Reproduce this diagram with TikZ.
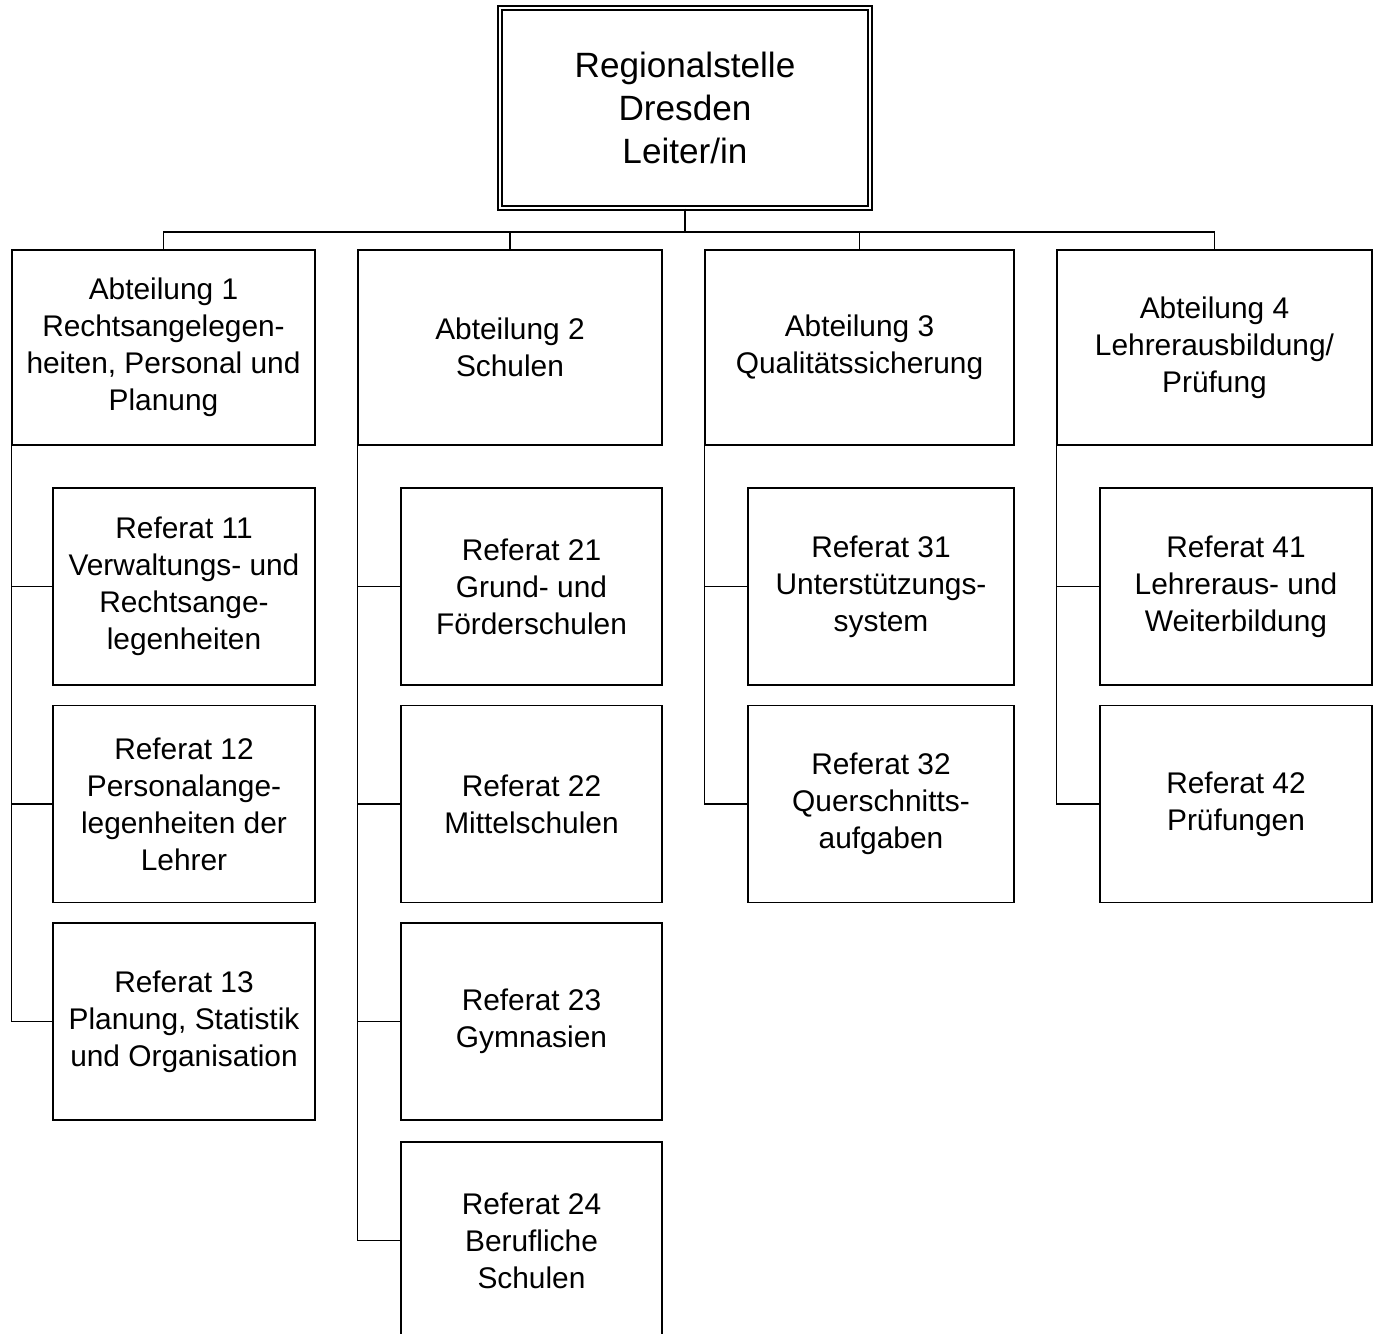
\documentclass[tikz,border=0pt]{standalone}
\usepackage{fontspec}
\setmainfont{Liberation Sans}
\usepackage{tikz}
\usetikzlibrary{positioning}
\tikzset{
every node/.style={align=center}, % Centered multi-line labels
    box/.style=
    { % Sets the properties for each unit
        draw,
        line width=0.8pt,
        inner sep=0pt,
        font=\fontsize{17}{21}\selectfont
    },
    head/.style={ % Top box with double border
        box,
        double,
        double distance=1.6pt,
        font=\fontsize{20}{24.5}\selectfont
    },
    abt/.style={box,minimum height=3.9cm},
    ref/.style={box,minimum height=3.94cm},
    link/.style={line width=0.8pt} % Connectors
}
\begin{document}
\begin{tikzpicture}[x=0.02cm,y=-0.02cm]
\clip (0,0) rectangle (1380,1333);

\node [head,minimum width=7.4cm,minimum height=4cm] (L) at (685,108)
    {Regionalstelle\\Dresden\\Leiter/in};

\node [abt,minimum width=6.06cm] (A1) at (163.5,347.5)
    {Abteilung 1\\Rechtsangelegen-\\heiten, Personal und\\Planung};
\node [abt,minimum width=6.08cm] (A2) at (510,347.5) {Abteilung 2\\Schulen};
\node [abt,minimum width=6.18cm] (A3) at (859.5,347.5) {Abteilung 3\\Qualitätssicherung};
\node [abt,minimum width=6.3cm]  (A4) at (1214.5,347.5)
    {Abteilung 4\\Lehrerausbildung/\\Prüfung};

\node [ref,minimum width=5.24cm] (R11) at (184,586.5)
    {Referat 11\\Verwaltungs- und\\Rechtsange-\\legenheiten};
\node [ref,minimum width=5.24cm] (R12) at (184,804)
    {Referat 12\\Personalange-\\legenheiten der\\Lehrer};
\node [ref,minimum width=5.24cm] (R13) at (184,1021.5)
    {Referat 13\\Planung, Statistik\\und Organisation};

\node [ref,minimum width=5.22cm] (R21) at (531.5,586.5) {Referat 21\\Grund- und\\Förderschulen};
\node [ref,minimum width=5.22cm] (R22) at (531.5,804) {Referat 22\\Mittelschulen};
\node [ref,minimum width=5.22cm] (R23) at (531.5,1021.5) {Referat 23\\Gymnasien};
\node [ref,minimum width=5.22cm] (R24) at (531.5,1240.5) {Referat 24\\Berufliche\\Schulen};

\node [ref,minimum width=5.32cm] (R31) at (881,586.5) {Referat 31\\Unterstützungs-\\system};
\node [ref,minimum width=5.32cm] (R32) at (881,804) {Referat 32\\Querschnitts-\\aufgaben};

\node [ref,minimum width=5.44cm] (R41) at (1236,586.5) {Referat 41\\Lehreraus- und\\Weiterbildung};
\node [ref,minimum width=5.44cm] (R42) at (1236,804) {Referat 42\\Prüfungen};

% Leitung to Abteilungen
\coordinate (bus) at (685,232);
\draw [link] (L.south) -- (bus);
\draw [link] (bus) -| (A1.north);
\draw [link] (bus) -| (A2.north);
\draw [link] (bus) -| (A3.north);
\draw [link] (bus) -| (A4.north);

% Abteilungen to Referate
\draw [link] (A1.south west) |- (R11.west);
\draw [link] (A1.south west) |- (R12.west);
\draw [link] (A1.south west) |- (R13.west);
\draw [link] (A2.south west) |- (R21.west);
\draw [link] (A2.south west) |- (R22.west);
\draw [link] (A2.south west) |- (R23.west);
\draw [link] (A2.south west) |- (R24.west);
\draw [link] (A3.south west) |- (R31.west);
\draw [link] (A3.south west) |- (R32.west);
\draw [link] (A4.south west) |- (R41.west);
\draw [link] (A4.south west) |- (R42.west);
\end{tikzpicture}
\end{document}
